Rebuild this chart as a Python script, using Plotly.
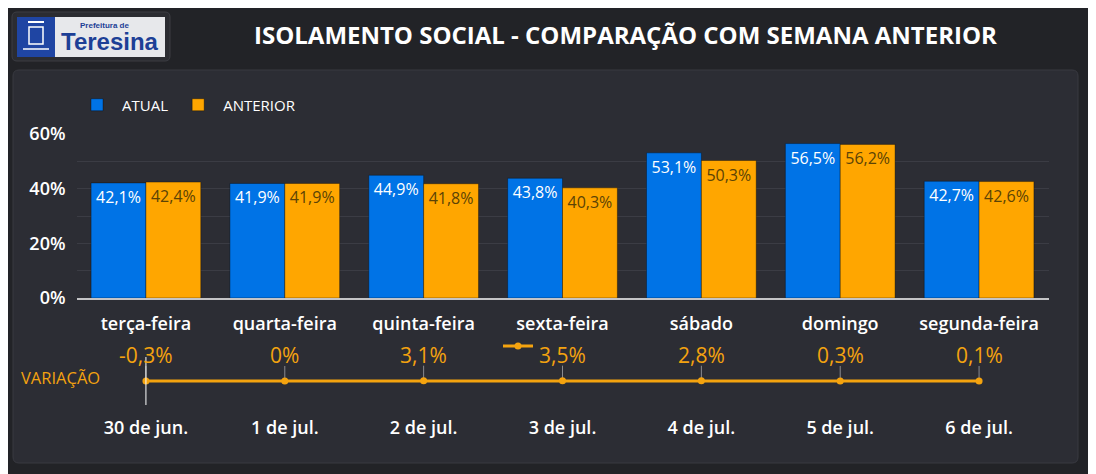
import plotly.graph_objects as go

dias = ['terça-feira', 'quarta-feira', 'quinta-feira', 'sexta-feira', 'sábado', 'domingo', 'segunda-feira']
datas = ['30 de jun.', '1 de jul.', '2 de jul.', '3 de jul.', '4 de jul.', '5 de jul.', '6 de jul.']
atual = [42.1, 41.9, 44.9, 43.8, 53.1, 56.5, 42.7]
anterior = [42.4, 41.9, 41.8, 40.3, 50.3, 56.2, 42.6]
variacao = [-0.3, 0, 3.1, 3.5, 2.8, 0.3, 0.1]

W, H = 1096, 474
OFF = 8  # margem do body da pagina
AZUL = '#0073e6'
LARANJA = '#ffa600'
LARANJA_TXT = '#f4a30f'
FONTE = 'Open Sans'


def px(x):
    return (x - OFF) / W


def py(y):
    return 1 - (y - OFF) / H


def caixa(x0, y0, x1, y1, r=5):
    # retangulo arredondado em coordenadas de papel
    rx, ry = r / W, r / H
    a, b, c, d = px(x0), py(y1), px(x1), py(y0)
    return (f'M{a + rx},{b} L{c - rx},{b} Q{c},{b} {c},{b + ry} '
            f'L{c},{d - ry} Q{c},{d} {c - rx},{d} L{a + rx},{d} '
            f'Q{a},{d} {a},{d - ry} L{a},{b + ry} Q{a},{b} {a + rx},{b} Z')


def fmt(v):
    s = f'{v:.1f}'.rstrip('0').rstrip('.')
    return s.replace('.', ',') + '%'


fig = go.Figure()

# barras
fig.add_trace(go.Bar(
    x=dias, y=atual, name='ATUAL',
    marker=dict(color=AZUL, line=dict(color='rgba(0,0,0,0.35)', width=1)),
    texttemplate='%{y:.1f}%', textposition='inside', insidetextanchor='end',
    textangle=0, constraintext='none',
    textfont=dict(color='white', size=16, family=FONTE),
    xaxis='x', yaxis='y', legend='legend'
))
fig.add_trace(go.Bar(
    x=dias, y=anterior, name='ANTERIOR',
    marker=dict(color=LARANJA, line=dict(color='rgba(0,0,0,0.35)', width=1)),
    texttemplate='%{y:.1f}%', textposition='inside', insidetextanchor='end',
    textangle=0, constraintext='none',
    textfont=dict(color='#5b4306', size=16, family=FONTE),
    xaxis='x', yaxis='y', legend='legend'
))

# linha de variacao
fig.add_trace(go.Scatter(
    x=datas, y=variacao, name='',
    mode='lines+markers',
    line=dict(color=LARANJA_TXT, width=3),
    marker=dict(color=LARANJA_TXT, size=7),
    error_y=dict(type='data', symmetric=False, array=[150] * len(datas),
                 arrayminus=[0] * len(datas), width=0, thickness=1,
                 color='#8a8b90'),
    xaxis='x2', yaxis='y2', legend='legend2'
))

for d, v in zip(datas, variacao):
    fig.add_annotation(
        x=d, y=v, xref='x2', yref='y2', text=fmt(v), showarrow=False,
        yshift=26, font=dict(color=LARANJA_TXT, size=21, family=FONTE)
    )

fig.add_annotation(
    x=px(19), y=py(377), xref='paper', yref='paper', text='VARIAÇÃO',
    showarrow=False, xanchor='left', yanchor='middle',
    font=dict(color=LARANJA_TXT, size=16.5, family=FONTE)
)

# titulo
fig.add_annotation(
    x=px(625), y=py(34), xref='paper', yref='paper',
    text='ISOLAMENTO SOCIAL - COMPARAÇÃO COM SEMANA ANTERIOR',
    showarrow=False, xanchor='center', yanchor='middle',
    font=dict(color='white', size=24, family=FONTE, weight='bold')
)

# logo
fig.add_annotation(
    x=px(104), y=py(26), xref='paper', yref='paper', text='Prefeitura de',
    showarrow=False, xanchor='center', yanchor='middle',
    font=dict(color='#1d3f96', size=8, family='Liberation Sans', weight='bold')
)
fig.add_annotation(
    x=px(110), y=py(41), xref='paper', yref='paper', text='Teresina',
    showarrow=False, xanchor='center', yanchor='middle',
    font=dict(color='#1d3f96', size=24, family='Liberation Sans', weight='bold')
)

shapes = [
    dict(type='path', path=caixa(13, 70, 1078, 463, 6), xref='paper', yref='paper',
         fillcolor='#2c2d34', line=dict(color='#393a41', width=1), layer='below'),
    dict(type='path', path=caixa(12, 12, 170, 61, 5), xref='paper', yref='paper',
         fillcolor='#2b2c31', line=dict(color='#3c3d43', width=1), layer='below'),
    dict(type='rect', x0=px(17), x1=px(55), y0=py(57), y1=py(17), xref='paper', yref='paper',
         fillcolor='#1f45a3', line=dict(width=0), layer='below'),
    dict(type='rect', x0=px(55), x1=px(165), y0=py(57), y1=py(17), xref='paper', yref='paper',
         fillcolor='#e7e8eb', line=dict(width=0), layer='below'),
    dict(type='rect', x0=px(29), x1=px(43), y0=py(44), y1=py(27), xref='paper', yref='paper',
         fillcolor='rgba(0,0,0,0)', line=dict(color='white', width=1.5)),
    dict(type='line', x0=px(23), x1=px(49), y0=py(49), y1=py(49), xref='paper', yref='paper',
         line=dict(color='white', width=1.5)),
    dict(type='line', x0=px(28), x1=px(44), y0=py(22), y1=py(22), xref='paper', yref='paper',
         line=dict(color='white', width=2)),
    # cursor vertical sobre o primeiro ponto
    dict(type='line', xref='x2', yref='paper', x0=datas[0], x1=datas[0],
         y0=py(405), y1=py(357), line=dict(color='white', width=1)),
]

fig.update_layout(
    width=W, height=H, autosize=False,
    margin=dict(l=0, r=0, t=0, b=0, pad=0, autoexpand=False),
    paper_bgcolor='#222327', plot_bgcolor='rgba(0,0,0,0)',
    separators=',.',
    barmode='group', bargap=0.21, bargroupgap=0,
    font=dict(family=FONTE, color='white'),
    shapes=shapes,
    showlegend=True,
    legend=dict(orientation='h', x=px(72), y=py(105), xanchor='left', yanchor='middle',
                font=dict(size=15, color='white', family=FONTE),
                bgcolor='rgba(0,0,0,0)', itemwidth=40),
    legend2=dict(orientation='h', x=px(498), y=py(346), xanchor='left', yanchor='middle',
                 font=dict(size=10), bgcolor='rgba(0,0,0,0)', itemwidth=30),
    xaxis=dict(domain=[px(76.5), px(1048.5)], anchor='y', automargin=False,
               showline=True, linecolor='#c4c4c6', linewidth=2,
               showgrid=False, ticks='', ticklabelstandoff=8,
               tickfont=dict(size=18, color='white', family=FONTE, weight=600)),
    yaxis=dict(domain=[py(298), py(134)], range=[0, 60], anchor='x', automargin=False,
               dtick=20, ticksuffix='%', showgrid=True, gridcolor='#3b3c44', gridwidth=1,
               minor=dict(dtick=10, showgrid=True, gridcolor='#3b3c44'),
               zeroline=False, ticks='', ticklabelstandoff=10,
               tickfont=dict(size=18, color='white', family=FONTE, weight=600)),
    xaxis2=dict(domain=[px(76.5), px(1048.5)], anchor='y2', automargin=False,
                range=[-0.5, len(datas) - 0.5],
                showline=False, showgrid=False, zeroline=False, ticks='',
                ticklabelstandoff=14,
                tickfont=dict(size=18, color='white', family=FONTE, weight=600)),
    yaxis2=dict(domain=[py(401), py(361)], range=[-200, 200], anchor='x2',
                automargin=False, visible=False, showgrid=False, zeroline=False),
    hovermode='closest',
)

fig.write_html('out.html')
